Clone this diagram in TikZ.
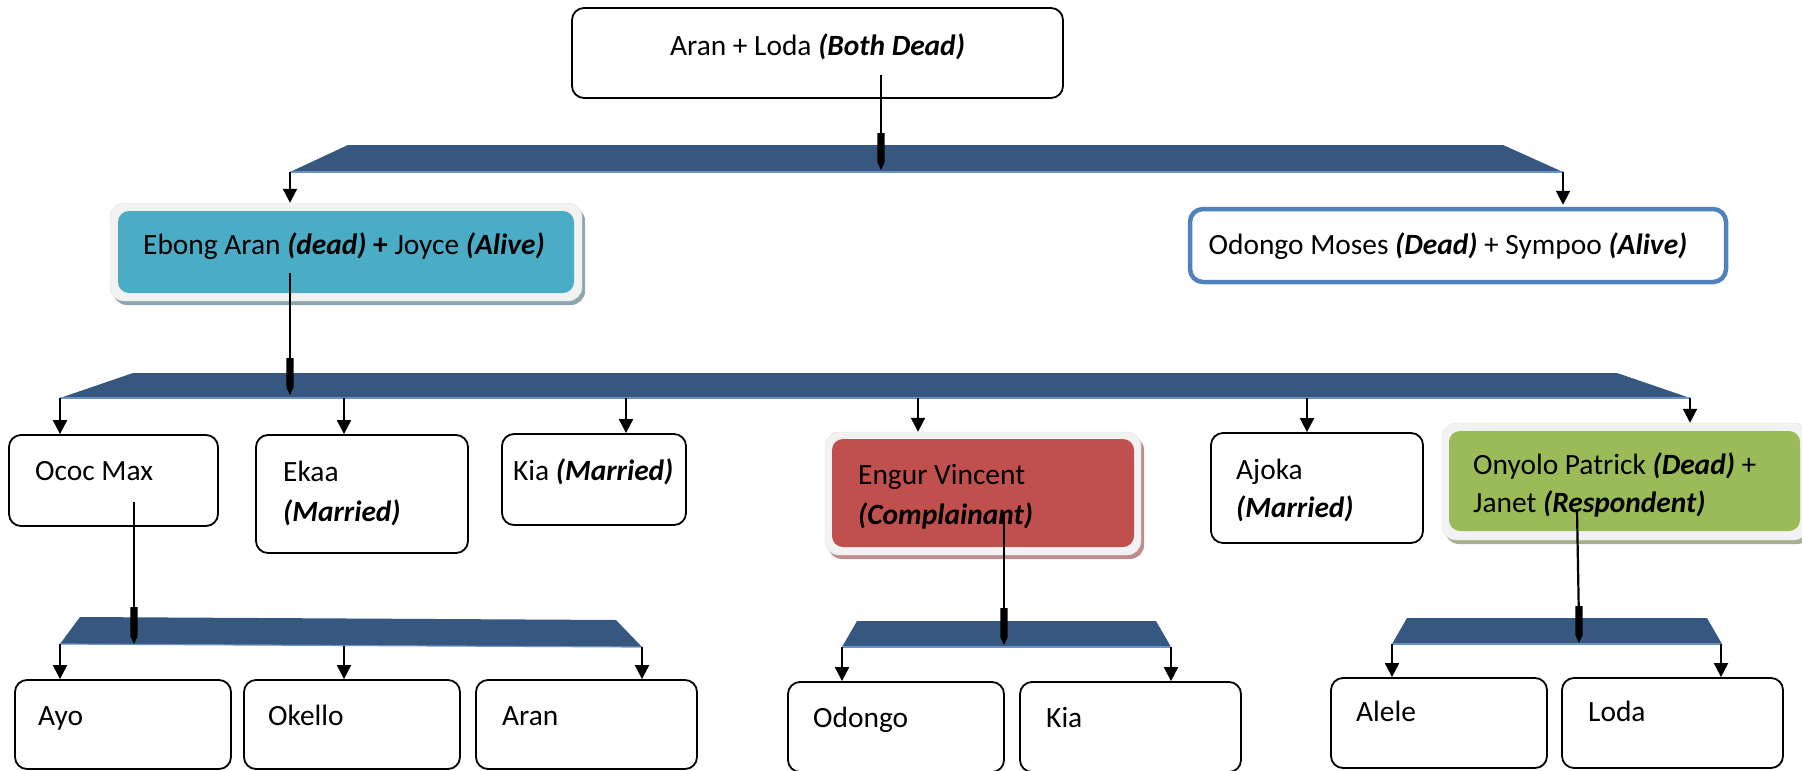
\documentclass[tikz,border=0pt]{standalone}
\usepackage{fontspec}
\setmainfont{Carlito}
\usetikzlibrary{arrows.meta,calc}
\definecolor{barblue}{RGB}{53,87,128}
\definecolor{barhi}{RGB}{110,145,195}
\definecolor{tealc}{HTML}{4BACC6}
\definecolor{redc}{HTML}{C0504D}
\definecolor{greenc}{HTML}{9BBB59}
\definecolor{blueb}{HTML}{4F81BD}
\definecolor{framec}{HTML}{F2F2F2}
\definecolor{shteal}{RGB}{140,168,175}
\definecolor{shred}{RGB}{190,140,140}
\definecolor{shgreen}{RGB}{165,175,140}
\newcommand\bi[1]{\textbf{\textit{#1}}}
\newcommand\thickconn[2]{%
  \draw[line width=2.2pt] (#1) -- ($(#2)+(0,-20)$);
  \fill ($(#2)+(-3.7,-37)$) -- ++(7.4,0) -- ++(0,29) -- ++(-3.7,8) -- ++(-3.7,-8) -- cycle;}
\tikzset{
  pbox/.style={draw, line width=1.8pt, rounded corners=12pt, fill=white, inner sep=0pt},
  txt/.style={anchor=base west, inner sep=0pt, font=\fontsize{29.4}{36}\selectfont},
  arr/.style={line width=2pt, -{Triangle[length=14pt,width=14pt]}},
  bar/.style={fill=barblue},
}
\begin{document}
\begin{tikzpicture}[x=1pt,y=-1pt]
\useasboundingbox (0,0) rectangle (1802,771);

% ---------- top box
\node[pbox, minimum width=491, minimum height=90] (top) at (817.5,53) {};
\node[txt, anchor=base] (topt) at (817.5,55) {Aran + Loda \bi{(Both Dead)}};

% ---------- bar 1
\fill[bar] (348,145) -- (1503,145) -- (1563,172) -- (290,172) -- cycle;
\draw[barhi, line width=1.2pt] (290,172) -- (1563,172);
\coordinate (t0s) at (881,75);
\coordinate (t0e) at (881,170);
\thickconn{t0s}{t0e}
\coordinate (b1L) at (290,172);
\coordinate (b1R) at (1563,172);

% ---------- Ebong (fancy teal)
\fill[shteal, rounded corners=14pt] (113,207) rectangle (585,305);
\node[draw=black!12, fill=framec, rounded corners=14pt, minimum width=472, minimum height=98, inner sep=0] (ebongF) at (346,252) {};
\node[fill=tealc, rounded corners=11pt, minimum width=456, minimum height=82, inner sep=0] (ebong) at (346,252) {};
\node[txt] (ebongt) at (143,254) {Ebong Aran \bi{(dead)} \textbf{+} Joyce \bi{(Alive)}};

% ---------- Odongo Moses
\node[draw=blueb, line width=4.5pt, rounded corners=13pt, fill=white, minimum width=536, minimum height=73, inner sep=0] (odm) at (1458,245.5) {};
\node[txt, anchor=base] (odmt) at (1448,254) {Odongo Moses \bi{(Dead)} + Sympoo \bi{(Alive)}};

\draw[arr] (b1L) -- (b1L |- ebongF.north);
\draw[arr] (b1R) -- ($(b1R |- odm.north)+(0,-2)$);

% ---------- bar 2
\fill[bar] (133,373) -- (1617,373) -- (1690,398) -- (60,398) -- cycle;
\draw[barhi, line width=1.2pt] (60,398) -- (1690,398);
\coordinate (t1s) at (290,273);
\coordinate (t1e) at (290,395);
\thickconn{t1s}{t1e}

% level-3 boxes
\node[pbox, minimum width=209, minimum height=91] (ococ) at (113.5,480.5) {};
\node[txt] (ococt) at (35,480) {Ococ Max};
\node[pbox, minimum width=212, minimum height=118] (ekaa) at (362,494) {};
\node[txt] (ekaat) at (283,481) {Ekaa};
\node[txt] (ekaat2) at (283,521) {\bi{(Married)}};
\node[pbox, minimum width=184, minimum height=91] (kia) at (594,479.5) {};
\node[txt] (kiat) at (513,480) {Kia \bi{(Married)}};

\fill[shred, rounded corners=14pt] (828,436) rectangle (1144,559);
\node[draw=black!12, fill=framec, rounded corners=14pt, minimum width=316, minimum height=123, inner sep=0] (engurF) at (983,493.5) {};
\node[fill=redc, rounded corners=11pt, minimum width=302, minimum height=108, inner sep=0] (engur) at (983,493) {};
\node[txt] (engurt) at (858,484) {Engur Vincent};
\node[txt] (engurt2) at (858,524) {\bi{(Complainant)}};

\node[pbox, minimum width=212, minimum height=110] (ajoka) at (1317,488) {};
\node[txt] (ajokat) at (1236,479) {Ajoka};
\node[txt] (ajokat2) at (1236,517) {\bi{(Married)}};

\fill[shgreen, rounded corners=14pt] (1445,427) rectangle (1811,544);
\node[draw=black!12, fill=framec, rounded corners=14pt, minimum width=366, minimum height=117, inner sep=0] (onyF) at (1625,481.5) {};
\node[fill=greenc, rounded corners=11pt, minimum width=351, minimum height=100, inner sep=0] (ony) at (1624.5,481) {};
\node[txt] (onyt) at (1473,474) {Onyolo Patrick \bi{(Dead)} +};
\node[txt] (onyt2) at (1473,512) {Janet \bi{(Respondent)}};

\coordinate (b2a) at (60,398);
\coordinate (b2b) at (344,398);
\coordinate (b2c) at (626,398);
\coordinate (b2d) at (918,398);
\coordinate (b2e) at (1307,398);
\coordinate (b2f) at (1690,398);
\draw[arr] (b2a) -- (b2a |- ococ.north);
\draw[arr] (b2b) -- (b2b |- ekaa.north);
\draw[arr] (b2c) -- (b2c |- kia.north);
\draw[arr] (b2d) -- (b2d |- engurF.north);
\draw[arr] (b2e) -- (b2e |- ajoka.north);
\draw[arr] (b2f) -- (b2f |- onyF.north);

% ---------- bar 3a (Ococ children)
\fill[bar] (80,617) -- (616,620) -- (642,647) -- (60,644) -- cycle;
\draw[barhi, line width=1.2pt] (60,644) -- (642,647);
\coordinate (t2s) at (134,502);
\coordinate (t2e) at (134,644);
\thickconn{t2s}{t2e}
\node[pbox, minimum width=216, minimum height=89] (ayo) at (123,724.5) {};
\node[txt] (ayot) at (38,725) {Ayo};
\node[pbox, minimum width=216, minimum height=89] (okello) at (352,724.5) {};
\node[txt] (okellot) at (268,725) {Okello};
\node[pbox, minimum width=221, minimum height=89] (aran) at (586.5,724.5) {};
\node[txt] (arant) at (502,725) {Aran};
\coordinate (b3a) at (60,644);
\coordinate (b3b) at (344,646);
\coordinate (b3c) at (642,647);
\draw[arr] (b3a) -- (b3a |- ayo.north);
\draw[arr] (b3b) -- (b3b |- okello.north);
\draw[arr] (b3c) -- (b3c |- aran.north);

% ---------- bar 3b (Engur children)
\fill[bar] (857,621) -- (1156,621) -- (1171,647) -- (842,647) -- cycle;
\draw[barhi, line width=1.2pt] (842,647) -- (1171,647);
\coordinate (t3s) at (1004,512);
\coordinate (t3e) at (1004,645);
\thickconn{t3s}{t3e}
\node[pbox, minimum width=216, minimum height=90] (odongo) at (896,727) {};
\node[txt] (odongot) at (813,727) {Odongo};
\node[pbox, minimum width=221, minimum height=90] (kiab) at (1130.5,727) {};
\node[txt] (kiabt) at (1046,727) {Kia};
\coordinate (b4a) at (842,647);
\coordinate (b4b) at (1171,647);
\draw[arr] (b4a) -- (b4a |- odongo.north);
\draw[arr] (b4b) -- (b4b |- kiab.north);

% ---------- bar 3c (Onyolo children)
\fill[bar] (1407,618) -- (1707,618) -- (1722,644) -- (1392,644) -- cycle;
\draw[barhi, line width=1.2pt] (1392,644) -- (1722,644);
\coordinate (t4s) at (1577,510);
\coordinate (t4e) at (1579,643);
\thickconn{t4s}{t4e}
\node[pbox, minimum width=216, minimum height=90] (alele) at (1439,723) {};
\node[txt] (alelet) at (1356,721) {Alele};
\node[pbox, minimum width=221, minimum height=90] (loda) at (1672.5,723) {};
\node[txt] (lodat) at (1588,721) {Loda};
\coordinate (b5a) at (1392,644);
\coordinate (b5b) at (1721,644);
\draw[arr] (b5a) -- (b5a |- alele.north);
\draw[arr] (b5b) -- (b5b |- loda.north);
\end{tikzpicture}
\end{document}
